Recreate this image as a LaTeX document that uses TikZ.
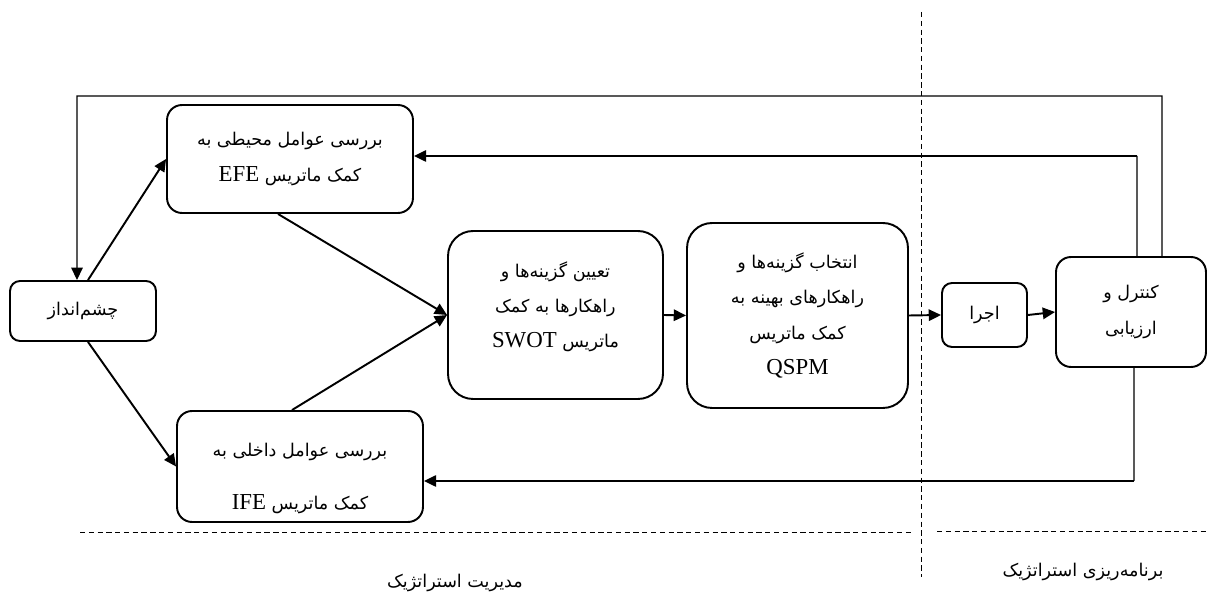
\documentclass[tikz,border=0pt]{standalone}
\usepackage{fontspec}
\usetikzlibrary{arrows.meta}
\newfontfamily\arabicfont[Script=Arabic]{DejaVu Sans}
\newfontfamily\latinfont{Liberation Serif}
\TeXXeTstate=1
\newcommand{\fa}[1]{\beginR #1\endR}
\newcommand{\la}[1]{{\latinfont\fontsize{13}{20}\selectfont #1}}
\begin{document}
\begin{tikzpicture}[x=0.02cm,y=-0.02cm,
  font={\arabicfont\fontsize{10}{20}\selectfont},
  box/.style={draw,line width=1.1pt,rounded corners=0.3cm,align=center,inner sep=0pt},
  conn/.style={line width=1.1pt,-{Triangle[length=7pt,width=6.5pt]}},
  fbline/.style={line width=0.7pt},
  sepline/.style={line width=0.5pt,dash pattern=on 3pt off 2pt}]
  \useasboundingbox (0,0) rectangle (1208,594);
  % boxes
  \node[box,rounded corners=0.2cm,minimum width=2.92cm,minimum height=1.2cm] (vision) at (83,311) {\fa{چشم‌انداز}};
  \node[box,minimum width=4.92cm,minimum height=2.16cm] (efe) at (290,159)
    {\fa{بررسی عوامل محیطی به}\\ \fa{کمک ماتریس \la{EFE}}};
  \node[box,minimum width=4.92cm,minimum height=2.22cm] (ife) at (300,466.5)
    {\rule{0pt}{21pt}\fa{بررسی عوامل داخلی به}\\[10pt] \fa{کمک ماتریس \la{IFE}}};
  \node[box,rounded corners=0.5cm,minimum width=4.3cm,minimum height=3.36cm] (swot) at (555.5,315)
    {\fa{تعیین گزینه‌ها و}\\ \fa{راهکارها به کمک}\\ \fa{ماتریس \la{SWOT}}\\[-8pt]};
  \node[box,rounded corners=0.5cm,minimum width=4.42cm,minimum height=3.7cm] (qspm) at (797.5,315.5)
    {\fa{انتخاب گزینه‌ها و}\\ \fa{راهکارهای بهینه به}\\ \fa{کمک ماتریس}\\ \la{QSPM}};
  \node[box,rounded corners=0.2cm,minimum width=1.7cm,minimum height=1.28cm] (ejra) at (984.5,315) {\fa{اجرا}};
  \node[box,minimum width=3.0cm,minimum height=2.2cm] (ctl) at (1131,312)
    {\fa{کنترل و}\\ \fa{ارزیابی}};
  % forward arrows
  \draw[conn] ([xshift=0.1cm]vision.north) -- (efe.west);
  \draw[conn] ([xshift=0.1cm]vision.south) -- (ife.west);
  \draw[conn] ([xshift=-0.24cm]efe.south) -- (swot.west);
  \draw[conn] ([xshift=-0.16cm]ife.north) -- (swot.west);
  \draw[conn] (swot.east) -- (qspm.west);
  \draw[conn] (qspm.east) -- (ejra.west);
  \draw[conn] (ejra.east) -- (ctl.west);
  % feedback
  \coordinate (fbL) at (77,96);
  \coordinate (fbE) at (1137,156);
  \coordinate (fbI) at (1134,481);
  \draw[fbline,-{Triangle[length=7pt,width=6.5pt]}] ([xshift=0.62cm]ctl.north) |- (fbL) -- ([xshift=-0.12cm]vision.north);
  \draw[fbline] ([xshift=0.12cm]ctl.north) -- (fbE);
  \draw[conn] (fbE) -- (fbE -| efe.east);
  \draw[fbline] ([xshift=0.06cm]ctl.south) -- (fbI);
  \draw[conn] (fbI) -- (fbI -| ife.east);
  % separators
  \draw[sepline] (921,12) -- (921,577);
  \draw[sepline] (80,532) -- (913,532);
  \draw[sepline] (937,531) -- (1208,531);
  \node (mgmt) at (455,583) {\fa{مدیریت استراتژیک}};
  \node (plan) at (1083,572) {\fa{برنامه‌ریزی استراتژیک}};
\end{tikzpicture}
\end{document}
